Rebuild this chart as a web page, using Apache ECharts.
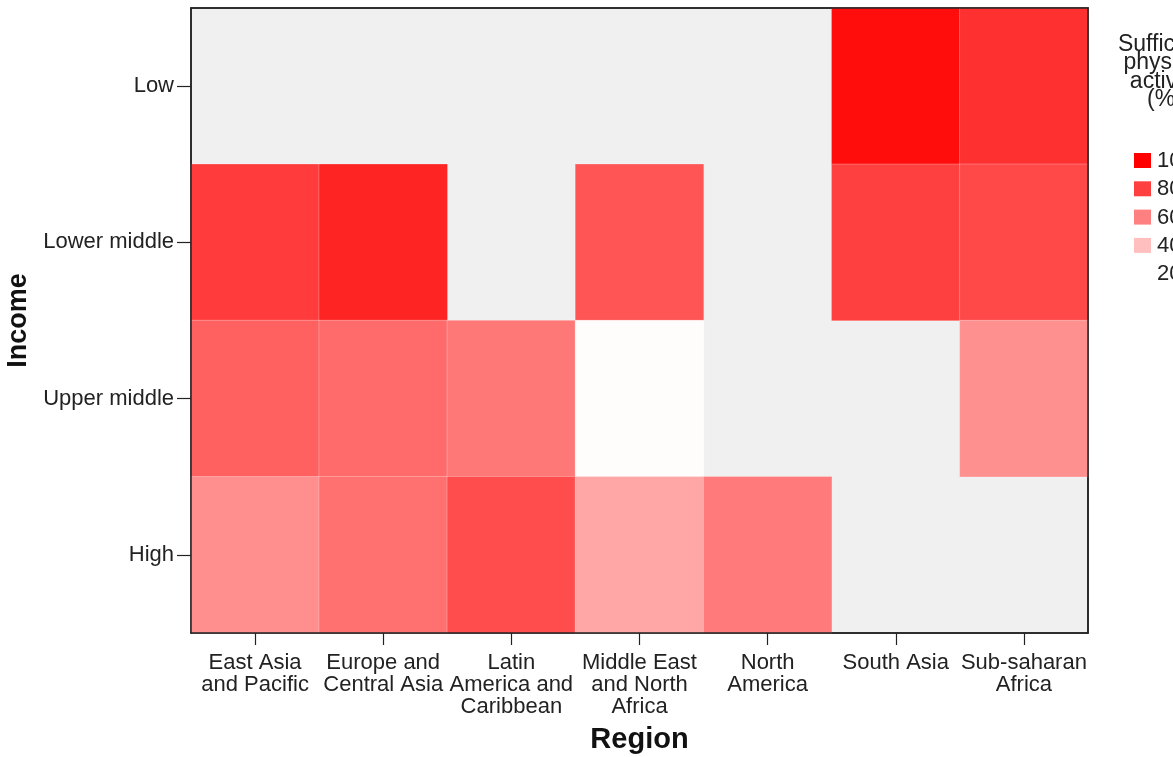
<!DOCTYPE html>
<html><head><meta charset="utf-8">
<script src="https://cdn.jsdelivr.net/npm/echarts@6/dist/echarts.min.js"></script>
<style>html,body{margin:0;padding:0;background:#fff}#c{width:1173px;height:757px}</style>
</head><body><div id="c"></div>
<script>
const regions = ['East Asia\nand Pacific','Europe and\nCentral Asia','Latin\nAmerica and\nCaribbean','Middle East\nand North\nAfrica','North\nAmerica','South Asia','Sub-saharan\nAfrica'];
const incomes = ['Low','Lower middle','Upper middle','High'];
// values per income level, in region order (null = no data)
const lowVals         = [null, null, null, null, null, 96, 85];
const lowerMiddleVals = [81.5, 88.7, null, 73.3, null, 80, 77.4];
const upperMiddleVals = [70, 66.4, 62.4, 21, null, null, 54.8];
const highVals        = [55, 64.9, 76, 48, 61.4, null, null];
const legendTicks = [100, 80, 60, 40, 20];
const legendTitle = 'Sufficient\nphysical\nactivity\n(%)';

const rows = [lowVals, lowerMiddleVals, upperMiddleVals, highVals];
const data = [];
rows.forEach((r, yi) => r.forEach((v, xi) => { if (v !== null) data.push([xi, yi, v]); }));

const vmin = 20, vmax = 100;
function colorFor(v){
  const t = (v - vmin) / (vmax - vmin);
  const g = Math.round(255 * (1 - t));
  return 'rgb(255,' + g + ',' + g + ')';
}

const chart = echarts.init(document.getElementById('c'));
const font = '"Liberation Sans", Arial, sans-serif';
const graphics = [{
  type: 'text', x: 1165, y: 35,
  style: { text: legendTitle, font: '23px ' + font, fill: '#222', align: 'center', verticalAlign: 'top', lineHeight: 18.5 }
}];
legendTicks.forEach((v, i) => {
  const y = 153 + i * 28.3;
  if (v > vmin) graphics.push({ type: 'rect', shape: { x: 1134, y: y, width: 17, height: 15 }, style: { fill: colorFor(v) } });
  graphics.push({ type: 'text', x: 1157, y: y + 8, style: { text: String(v), font: '22px ' + font, fill: '#222', verticalAlign: 'middle' } });
});

const frameAxis = { show: true, z: 5, axisLine: { show: true, onZero: false, lineStyle: { color: '#222', width: 1.5 } }, axisTick: { show: false }, axisLabel: { show: false }, splitLine: { show: false } };

chart.setOption({
  backgroundColor: '#fff',
  animation: false,
  grid: { left: 191, right: 85, top: 8, bottom: 124, outerBoundsMode: 'none', containLabel: false, show: true, backgroundColor: '#f0f0f0', borderColor: '#222', borderWidth: 1.5 },
  xAxis: [{
    type: 'category', data: regions, name: 'Region', nameLocation: 'middle', nameGap: 92, z: 5,
    nameTextStyle: { fontSize: 29, fontWeight: 'bold', color: '#111', fontFamily: font },
    axisLine: { show: true, lineStyle: { color: '#222', width: 1.5 } },
    axisTick: { show: true, alignWithLabel: true, length: 12, lineStyle: { color: '#222', width: 1.2 } },
    axisLabel: { fontSize: 22, color: '#222', fontFamily: font, lineHeight: 22, margin: 19, interval: 0 },
    splitLine: { show: false }
  }, Object.assign({ type: 'category', data: regions, position: 'top' }, frameAxis)],
  yAxis: [{
    type: 'category', data: incomes, inverse: true, name: 'Income', nameLocation: 'middle', nameGap: 155, z: 5,
    nameTextStyle: { fontSize: 27, fontWeight: 'bold', color: '#111', fontFamily: font },
    axisLine: { show: true, lineStyle: { color: '#222', width: 1.5 } },
    axisTick: { show: true, alignWithLabel: true, length: 14, lineStyle: { color: '#222', width: 1.2 } },
    axisLabel: { fontSize: 22, color: '#222', fontFamily: font, margin: 17 },
    splitLine: { show: false }
  }, Object.assign({ type: 'category', data: incomes, inverse: true, position: 'right' }, frameAxis)],
  visualMap: { show: false, type: 'continuous', min: vmin, max: vmax, dimension: 2, inRange: { color: ['#ffffff', '#ff0000'] } },
  series: [{
    type: 'heatmap', data: data, xAxisIndex: 0, yAxisIndex: 0,
    itemStyle: { borderColor: 'rgba(255,255,255,0.25)', borderWidth: 1 }
  }],
  graphic: graphics
});
</script></body></html>
